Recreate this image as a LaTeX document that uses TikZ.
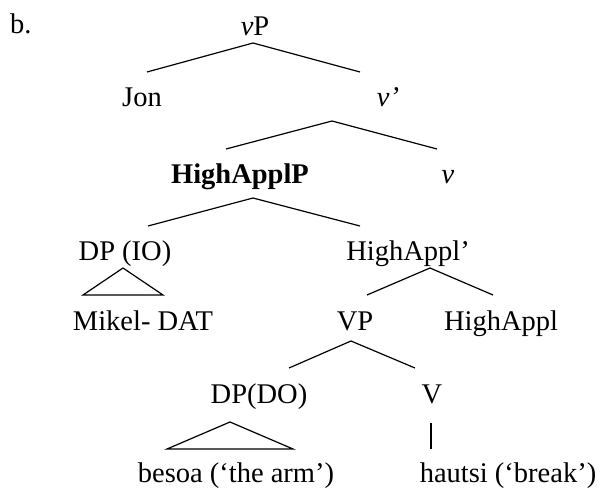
\documentclass[tikz,border=0pt]{standalone}
\usepackage{fontspec}
\setmainfont{Liberation Serif}
\usepackage{tikz}

\begin{document}
\begin{tikzpicture}[x=1pt,y=-1pt,
    lbl/.style={anchor=base,inner sep=0pt,font=\fontsize{28.5}{32}\selectfont},
    branch/.style={line width=1.2pt}]
  \useasboundingbox (0,0) rectangle (600,488);
  \node[lbl,anchor=base west] (ex) at (10,33) {b.};
  \node[lbl] (vP) at (255,35) {\textit{v}P};
  \node[lbl] (Jon) at (142,106) {Jon};
  \node[lbl] (vbar) at (388,106) {\textit{v’}};
  \node[lbl] (HApplP) at (240,183) {\textbf{HighApplP}};
  \node[lbl] (v) at (448,183) {\textit{v}};
  \node[lbl] (DPIO) at (125,260) {DP (IO)};
  \node[lbl] (HApplbar) at (408,260) {HighAppl’};
  \node[lbl] (Mikel) at (143,330) {Mikel- DAT};
  \node[lbl] (VP) at (355,330) {VP};
  \node[lbl] (HAppl) at (501,330) {HighAppl};
  \node[lbl] (DPDO) at (259,403) {DP(DO)};
  \node[lbl] (V) at (432,403) {V};
  \node[lbl] (besoa) at (236,482) {besoa (‘the arm’)};
  \node[lbl] (hautsi) at (508,482) {hautsi (‘break’)};
  % branch ends
  \coordinate (vP-a) at (253,43);
  \coordinate (Jon-t) at (147,72);
  \coordinate (vbar-t) at (360,72);
  \coordinate (vbar-a) at (332,121);
  \coordinate (HApplP-t) at (226,149);
  \coordinate (v-t) at (437,149);
  \coordinate (HApplP-a) at (253,198);
  \coordinate (DPIO-t) at (148,226);
  \coordinate (HApplbar-t) at (360,226);
  \coordinate (DPIO-a) at (123,268);
  \coordinate (DPIO-l) at (83,295);
  \coordinate (DPIO-r) at (163,295);
  \coordinate (HApplbar-a) at (430,268);
  \coordinate (VP-t) at (367,295);
  \coordinate (HAppl-t) at (493,295);
  \coordinate (VP-a) at (351,341);
  \coordinate (DPDO-t) at (289,368);
  \coordinate (V-t) at (415,368);
  \coordinate (DPDO-a) at (230,422);
  \coordinate (DPDO-l) at (167,449);
  \coordinate (DPDO-r) at (293,449);
  \coordinate (V-a) at (431,423);
  \coordinate (hautsi-t) at (431,449);
  \draw[branch] (Jon-t) -- (vP-a) -- (vbar-t);
  \draw[branch] (HApplP-t) -- (vbar-a) -- (v-t);
  \draw[branch] (DPIO-t) -- (HApplP-a) -- (HApplbar-t);
  \draw[branch] (DPIO-a) -- (DPIO-l) -- (DPIO-r) -- cycle;
  \draw[branch] (VP-t) -- (HApplbar-a) -- (HAppl-t);
  \draw[branch] (DPDO-t) -- (VP-a) -- (V-t);
  \draw[branch] (DPDO-a) -- (DPDO-l) -- (DPDO-r) -- cycle;
  \draw[branch] (V-a) -- (hautsi-t);
\end{tikzpicture}
\end{document}
